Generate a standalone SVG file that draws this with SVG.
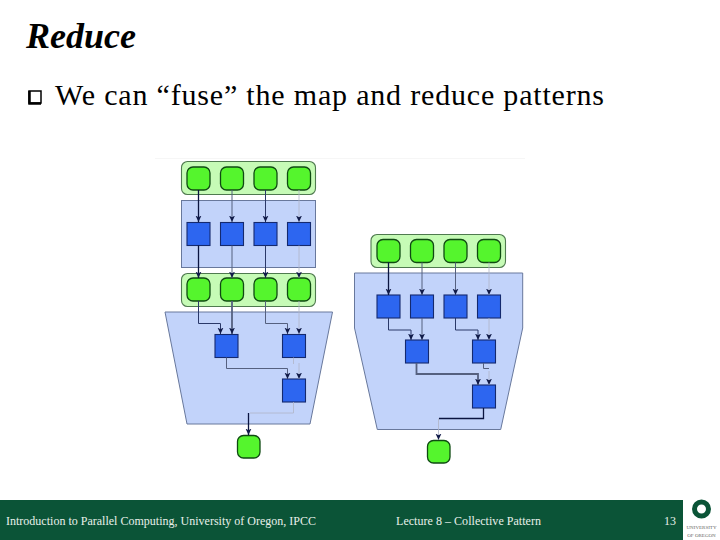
<svg xmlns="http://www.w3.org/2000/svg" width="720" height="540" viewBox="0 0 720 540">
<style>
.t{font-family:"Liberation Serif",serif}
.band{fill:#c6fbb6;stroke:#4f7a4f;stroke-width:1.1}
.panel{fill:#c2d3fa;stroke:#68789c;stroke-width:1}
.g{fill:#55f52d;stroke:#0f4a12;stroke-width:1.3}
.b{fill:#2d66f0;stroke:#14296e;stroke-width:1.1}
.c{fill:none;stroke:#2a3868;stroke-width:1}
.d{stroke:#0a1440;stroke-width:1.3}
.m{stroke:#55607f;stroke-width:1}
.l{stroke:#b0b5c6;stroke-width:.8}
.f{fill:#e8f0ea;font-size:12px}
</style>
<defs>
<marker id="h" viewBox="0 0 7 7" refX="6.500" refY="3.500" markerWidth="7" markerHeight="7" markerUnits="userSpaceOnUse" orient="auto"><path d="M0 .5L6.500 3.500 0 6.500 1.800 3.500Z" fill="#101a48"/></marker>
</defs>
<rect width="720" height="540" fill="#fff"/>
<text class="t" x="26" y="48" font-size="36" font-weight="bold" font-style="italic" fill="#000">Reduce</text>
<rect x="29" y="91" width="12" height="12" fill="#fff" stroke="#000" stroke-width="1.5"/>
<path d="M29.500 91V103.500H41" fill="none" stroke="#000" stroke-width="2.500"/>
<text class="t" x="55" y="105" font-size="30" fill="#000" textLength="549" lengthAdjust="spacing">We can “fuse” the map and reduce patterns</text>
<path d="M155 158.500H525" stroke="#f6f6f6"/>
<g id="left-top-band"><rect class="band" x="181.500" y="161.500" width="134" height="33" rx="6"/></g>
<g id="left-mid-panel"><rect class="panel" x="181.500" y="200.500" width="134" height="67"/></g>
<g id="left-mid-band"><rect class="band" x="181.500" y="273.500" width="134" height="33" rx="6"/></g>
<g id="left-trapezoid"><path class="panel" d="M165 312H332.500L310 424H187Z"/></g>
<g id="right-band"><rect class="band" x="371" y="234.500" width="134.500" height="33" rx="6"/></g>
<g id="right-panel"><path class="panel" d="M354.500 273H522.700V328L500.700 429.500H377.300L354.500 328Z"/></g>
<g id="left-nodes">
<g id="l1a"><rect class="g" x="187" y="167" width="23" height="23" rx="6"/></g>
<g id="l1b"><rect class="g" x="220.500" y="167" width="23" height="23" rx="6"/></g>
<g id="l1c"><rect class="g" x="254" y="167" width="23" height="23" rx="6"/></g>
<g id="l1d"><rect class="g" x="287.500" y="167" width="23" height="23" rx="6"/></g>
<g id="l2a"><rect class="b" x="187" y="222.500" width="23" height="23"/></g>
<g id="l2b"><rect class="b" x="220.500" y="222.500" width="23" height="23"/></g>
<g id="l2c"><rect class="b" x="254" y="222.500" width="23" height="23"/></g>
<g id="l2d"><rect class="b" x="287.500" y="222.500" width="23" height="23"/></g>
<g id="l3a"><rect class="g" x="187" y="278" width="23" height="23" rx="6"/></g>
<g id="l3b"><rect class="g" x="220.500" y="278" width="23" height="23" rx="6"/></g>
<g id="l3c"><rect class="g" x="254" y="278" width="23" height="23" rx="6"/></g>
<g id="l3d"><rect class="g" x="287.500" y="278" width="23" height="23" rx="6"/></g>
<g id="l4a"><rect class="b" x="215" y="334.500" width="23" height="23"/></g>
<g id="l4b"><rect class="b" x="282.500" y="334.500" width="23" height="23"/></g>
<g id="l5"><rect class="b" x="282.500" y="379" width="23" height="23"/></g>
<g id="l6"><rect class="g" x="237.500" y="435.500" width="22.500" height="22.500" rx="6"/></g>
</g>
<g id="right-nodes">
<g id="r1a"><rect class="g" x="377" y="239.500" width="23" height="23" rx="6"/></g>
<g id="r1b"><rect class="g" x="410.500" y="239.500" width="23" height="23" rx="6"/></g>
<g id="r1c"><rect class="g" x="444" y="239.500" width="23" height="23" rx="6"/></g>
<g id="r1d"><rect class="g" x="477.500" y="239.500" width="23" height="23" rx="6"/></g>
<g id="r2a"><rect class="b" x="377" y="295" width="23" height="23"/></g>
<g id="r2b"><rect class="b" x="410.500" y="295" width="23" height="23"/></g>
<g id="r2c"><rect class="b" x="444" y="295" width="23" height="23"/></g>
<g id="r2d"><rect class="b" x="477.500" y="295" width="23" height="23"/></g>
<g id="r3a"><rect class="b" x="405.500" y="340" width="23" height="23"/></g>
<g id="r3b"><rect class="b" x="472.500" y="340" width="23" height="23"/></g>
<g id="r4"><rect class="b" x="472.500" y="385" width="23" height="23"/></g>
<g id="r5"><rect class="g" x="427.500" y="440.500" width="22.500" height="22.500" rx="6"/></g>
</g>
<g id="connectors" class="c">
<path class="d" d="M198.500 190V222" marker-end="url(#h)"/>
<path class="m" d="M232 190V222" marker-end="url(#h)"/>
<path class="c" d="M265.500 190V222" marker-end="url(#h)"/>
<path class="l" d="M299 190V222" marker-end="url(#h)"/>
<path class="d" d="M198.500 245.500V278" marker-end="url(#h)"/>
<path class="m" d="M232 245.500V278" marker-end="url(#h)"/>
<path class="c" d="M265.500 245.500V278" marker-end="url(#h)"/>
<path class="l" d="M299 245.500V278" marker-end="url(#h)"/>
<path class="c" d="M198.500 301V323.500H220.500V334" marker-end="url(#h)"/>
<path class="m" d="M232 301V334" style="stroke-width:1.800" marker-end="url(#h)"/>
<path class="m" d="M265.500 301V323.500H287.500V334" marker-end="url(#h)"/>
<path class="l" d="M299 301V334" marker-end="url(#h)"/>
<path class="m" d="M226.500 357.500V368.500H287.500V379" marker-end="url(#h)"/>
<path class="l" d="M293.500 357.500V364"/>
<path class="l" d="M299 363V379" marker-end="url(#h)"/>
<path class="l" d="M293.500 402V413H250"/>
<path class="d" d="M248.500 413V435" marker-end="url(#h)"/>
<path class="d" d="M388.500 262.500V295" marker-end="url(#h)"/>
<path class="m" d="M422 262.500V295" marker-end="url(#h)"/>
<path class="m" d="M455.500 262.500V295" marker-end="url(#h)"/>
<path class="l" d="M489 262.500V295" marker-end="url(#h)"/>
<path class="c" d="M388.500 318V330H411V340" marker-end="url(#h)"/>
<path class="m" d="M422 318V340" marker-end="url(#h)"/>
<path class="c" d="M455.500 318V330H478V340" marker-end="url(#h)"/>
<path class="l" d="M489 318V340" marker-end="url(#h)"/>
<path class="m" d="M416.500 363V374H478V385" style="stroke-width:1.800" marker-end="url(#h)"/>
<path class="m" d="M483.500 363V368.500H489"/>
<path class="l" d="M489 371V385" marker-end="url(#h)"/>
<path class="d" d="M483.500 408V418.500H439"/>
<path class="l" d="M438.500 418.500V440" marker-end="url(#h)"/>
</g>
<rect x="0" y="500" width="683" height="40" fill="#0b5437"/>
<text class="t f" x="6" y="525" textLength="310" lengthAdjust="spacing">Introduction to Parallel Computing, University of Oregon, IPCC</text>
<text class="t f" x="396" y="525" textLength="145" lengthAdjust="spacing">Lecture 8 – Collective Pattern</text>
<text class="t f" x="664" y="525">13</text>
<g id="logo">
<ellipse cx="701.500" cy="509" rx="7" ry="7" fill="none" stroke="#0b5437" stroke-width="5"/>
<text x="701.500" y="529" font-family="Liberation Serif,serif" font-size="5" text-anchor="middle" fill="#666">UNIVERSITY</text>
<text x="701.500" y="537" font-family="Liberation Serif,serif" font-size="5" text-anchor="middle" fill="#666">OF OREGON</text>
</g>
</svg>
